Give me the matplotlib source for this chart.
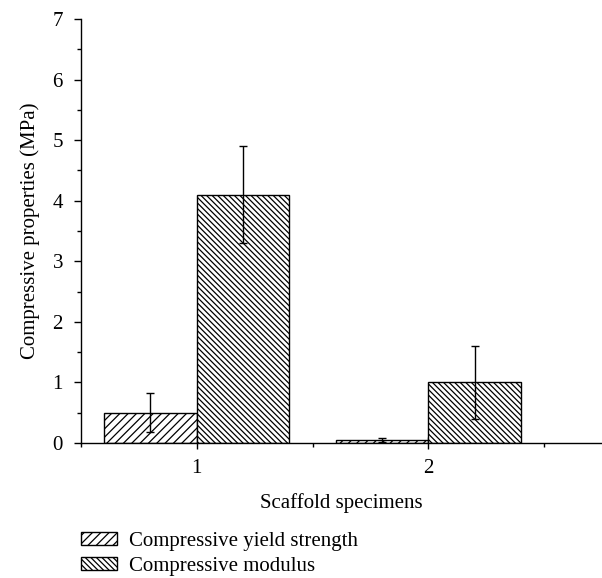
import numpy as np
import matplotlib.pyplot as plt
from matplotlib.ticker import MultipleLocator

plt.rcParams['font.family'] = ['Liberation Serif', 'DejaVu Serif']
plt.rcParams['hatch.linewidth'] = 0.9

specimens = [1, 2]
yield_strength = [0.5, 0.05]
yield_err = [0.32, 0.03]
modulus = [4.1, 1.0]
modulus_err = [0.8, 0.6]

width = 0.4
x = np.array(specimens, dtype=float)

fig = plt.figure(figsize=(6.02, 5.78), dpi=100)
ax = fig.add_axes([0.1346, 0.2336, 0.8654, 0.7336])

b1 = ax.bar(x - width / 2, yield_strength, width, color='white', edgecolor='black',
            linewidth=1.0, hatch='////', label='Compressive yield strength', zorder=2)
b2 = ax.bar(x + width / 2, modulus, width, color='white', edgecolor='black',
            linewidth=1.0, hatch='\\\\\\\\\\\\', label='Compressive modulus', zorder=2)
ax.errorbar(x - width / 2, yield_strength, yerr=yield_err, fmt='none', ecolor='black',
            elinewidth=1.0, capsize=3, capthick=1.0, zorder=3)
ax.errorbar(x + width / 2, modulus, yerr=modulus_err, fmt='none', ecolor='black',
            elinewidth=1.0, capsize=3, capthick=1.0, zorder=3)

ax.set_xlim(0.5, 2.75)
ax.set_ylim(0, 7)
ax.set_xticks(specimens)
ax.xaxis.set_minor_locator(MultipleLocator(0.5))
ax.yaxis.set_major_locator(MultipleLocator(1))
ax.yaxis.set_minor_locator(MultipleLocator(0.5))

for s in ['top', 'right']:
    ax.spines[s].set_visible(False)
ax.spines['left'].set_linewidth(1.0)
ax.spines['bottom'].set_linewidth(1.0)

ax.tick_params(axis='both', which='major', labelsize=15, direction='out', length=5, width=1)
ax.tick_params(axis='y', which='major', pad=8)
ax.tick_params(axis='x', which='major', direction='inout', length=9, pad=7)
ax.tick_params(axis='both', which='minor', direction='out', length=3, width=1)

ax.set_xlabel('Scaffold specimens', fontsize=15, labelpad=11)
ax.set_ylabel('Compressive properties (MPa)', fontsize=15, labelpad=9)

fig.legend(handles=[b1, b2], loc='upper left', bbox_to_anchor=(0.121, 0.094),
           frameon=False, fontsize=15, handlelength=1.7, handleheight=0.55,
           handletextpad=0.6, labelspacing=0.28, borderaxespad=0)

fig.savefig('out.png', dpi=100)
